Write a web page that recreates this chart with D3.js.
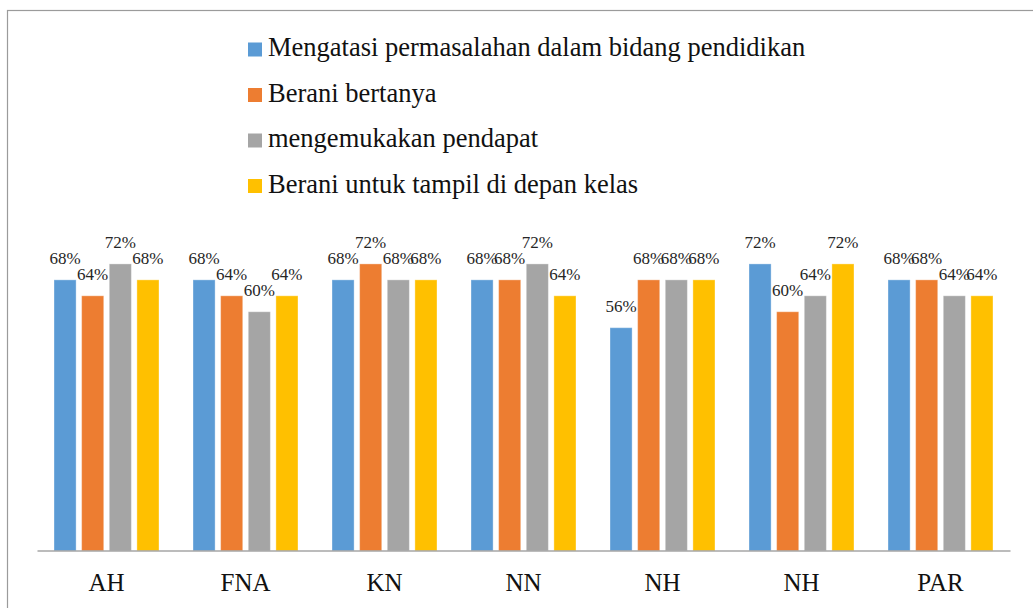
<!DOCTYPE html>
<html>
<head>
<meta charset="utf-8">
<script src="https://cdn.jsdelivr.net/npm/d3@7"></script>
<style>
  html, body { margin: 0; padding: 0; background: #fff; }
  svg { display: block; }
</style>
</head>
<body>
<div id="chart"></div>
<script>
const categories = ['AH', 'FNA', 'KN', 'NN', 'NH', 'NH', 'PAR'];
const seriesNames = [
  'Mengatasi permasalahan dalam bidang pendidikan',
  'Berani bertanya',
  'mengemukakan pendapat',
  'Berani untuk tampil di depan kelas'
];
const mengatasi = [0.68, 0.68, 0.68, 0.68, 0.56, 0.72, 0.68];
const bertanya = [0.64, 0.64, 0.72, 0.68, 0.68, 0.60, 0.68];
const pendapat = [0.72, 0.60, 0.68, 0.72, 0.68, 0.64, 0.64];
const tampil = [0.68, 0.64, 0.68, 0.64, 0.68, 0.72, 0.64];
const seriesValues = [mengatasi, bertanya, pendapat, tampil];
const yDomain = [0, 0.8];

const colors = ['#5B9BD5', '#ED7D31', '#A5A5A5', '#FFC000'];
const serif = '"Liberation Serif", "Times New Roman", serif';

const width = 1033;
const height = 608;
const plot = { left: 37, right: 1010, top: 232, bottom: 551 };

const svg = d3.select('#chart').append('svg')
  .attr('width', width)
  .attr('height', height);

// outer frame (runs past the right and bottom edges)
svg.append('rect')
  .attr('x', 7.5)
  .attr('y', 10.5)
  .attr('width', width + 20)
  .attr('height', height + 20)
  .style('fill', 'none')
  .style('stroke', '#9b9b9b')
  .style('stroke-width', 1.2);

// legend
const legend = svg.append('g').attr('class', 'legend');
seriesNames.forEach((name, i) => {
  const yy = 56 + i * 45.5;
  legend.append('rect')
    .attr('x', 248)
    .attr('y', yy - 13.5)
    .attr('width', 14)
    .attr('height', 14)
    .style('fill', colors[i]);
  legend.append('text')
    .attr('x', 268)
    .attr('y', yy)
    .attr('font-family', serif)
    .attr('font-size', 26.5)
    .attr('fill', '#111')
    .text(name);
});

const x = d3.scaleBand()
  .domain(d3.range(categories.length))
  .range([plot.left, plot.right]);

const xInner = d3.scaleBand()
  .domain(d3.range(seriesNames.length))
  .range([17, x.bandwidth() - 17])
  .paddingInner(0.2);

const y = d3.scaleLinear()
  .domain(yDomain)
  .range([plot.bottom, plot.top]);

const fmt = d3.format('.0%');

const groups = svg.append('g').attr('class', 'bars')
  .selectAll('g')
  .data(categories.map((c, i) => i))
  .join('g')
  .attr('transform', i => `translate(${x(i)},0)`);

groups.selectAll('rect')
  .data(i => seriesValues.map((vals, s) => ({ s, v: vals[i] })))
  .join('rect')
  .attr('x', d => xInner(d.s))
  .attr('y', d => y(d.v))
  .attr('width', xInner.bandwidth())
  .attr('height', d => y(0) - y(d.v))
  .style('fill', d => colors[d.s])
  .style('stroke', 'rgba(255,255,255,0.35)')
  .style('stroke-width', 1);

groups.selectAll('text')
  .data(i => seriesValues.map((vals, s) => ({ s, v: vals[i] })))
  .join('text')
  .attr('x', d => xInner(d.s) + xInner.bandwidth() / 2)
  .attr('y', d => y(d.v) - 16)
  .attr('text-anchor', 'middle')
  .attr('font-family', serif)
  .attr('font-size', 17)
  .attr('fill', '#262626')
  .text(d => fmt(d.v));

// category axis
const xAxis = svg.append('g')
  .attr('class', 'x axis')
  .attr('transform', `translate(0,${plot.bottom - 0.5})`)
  .call(d3.axisBottom(x).tickSize(0).tickPadding(0).tickFormat(i => categories[i]));

xAxis.select('.domain')
  .attr('stroke', '#a6a6a6')
  .attr('stroke-width', 1.5);

xAxis.selectAll('.tick text')
  .attr('dy', null)
  .attr('y', 40)
  .attr('font-size', 25)
  .attr('font-family', serif)
  .attr('fill', '#111');
</script>
</body>
</html>
